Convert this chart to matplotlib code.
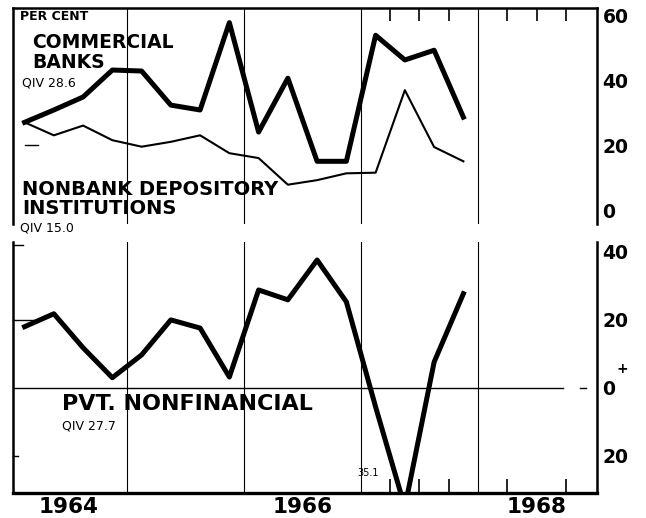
import matplotlib
matplotlib.use("Agg")
import matplotlib.pyplot as plt

# quarterly growth rates, per cent, 1964 Q1 .. 1967 Q4
years = [1964, 1965, 1966, 1967]
commercial_banks = [27, 30.8, 34.8, 43.1, 42.8, 32.3, 30.8, 57.7,
                    24, 40.6, 15, 15, 53.8, 46.2, 49.2, 28.6]
nonbank_depository = [27, 23, 26, 21.5, 19.5, 21, 23, 17.5,
                      16, 7.8, 9.2, 11.3, 11.5, 36.9, 19.4, 15.0]
pvt_nonfinancial = [18, 21.8, 11.8, 3, 9.7, 20, 17.6, 3.2,
                    28.8, 25.9, 37.6, 25.3, -5.6, -35.1, 7.6, 27.7]

top_ticks = [60, 40, 20, 0]
top_ticklabels = ["60", "40", "20", "0"]
bot_ticks = [40, 20, 0, -20]
bot_ticklabels = ["40", "20", "0", "20"]
year_labels = ["1964", "1966", "1968"]

x = [y + (q + 0.5) / 4 for y in years for q in range(4)]

W, H = 646, 518
fig = plt.figure(figsize=(W / 100, H / 100), dpi=100)
fig.patch.set_facecolor("white")


def fx(px):
    return px / W


def fy(py):
    return 1 - py / H


left, right = 13, 597
ax1 = fig.add_axes([fx(left), fy(224), fx(right - left), (224 - 8) / H])
ax2 = fig.add_axes([fx(left), fy(493), fx(right - left), (493 - 242) / H])

XMIN, XMAX = 1964.026, 1969.017
for ax in (ax1, ax2):
    ax.set_xlim(XMIN, XMAX)
    ax.set_facecolor("white")
    for yr in [1965, 1966, 1967, 1968]:
        ax.axvline(yr, color="black", lw=0.8, zorder=1)
    ax.yaxis.tick_right()
    ax.tick_params(axis="y", which="major", right=True, left=False, length=0,
                   pad=4, labelsize=13, labelcolor="black")

quarters = [1967.25, 1967.5, 1967.75, 1968.25, 1968.5, 1968.75]

# top panel
ax1.set_ylim(-4.3, 62.2)
ax1.plot(x, commercial_banks, color="black", lw=3.6, zorder=3)
ax1.plot(x, nonbank_depository, color="black", lw=1.5, zorder=3)
ax1.set_yticks(top_ticks)
ax1.set_yticklabels(top_ticklabels, fontweight="bold", fontsize=13.5)
ax1.spines["bottom"].set_visible(False)
for s in ["left", "top", "right"]:
    ax1.spines[s].set_linewidth(1.8)
ax1.set_xticks([])
ax1.set_xticks(quarters, minor=True)
ax1.tick_params(axis="x", which="minor", top=True, bottom=False, direction="in",
                length=9, width=1.2, labelbottom=False)

# bottom panel
ax2.set_ylim(-30.9, 42.9)
ax2.plot(x, pvt_nonfinancial, color="black", lw=3.6, zorder=3)
ax2.axhline(0, xmin=0, xmax=0.942, color="black", lw=1.0, zorder=2)
ax2.axhline(0, xmin=0.971, xmax=0.981, color="black", lw=1.0, zorder=2)
ax2.set_yticks(bot_ticks)
ax2.set_yticklabels(bot_ticklabels, fontweight="bold", fontsize=13.5)
ax2.spines["top"].set_visible(False)
for s in ["left", "right"]:
    ax2.spines[s].set_linewidth(1.8)
ax2.spines["bottom"].set_linewidth(2.4)
ax2.set_xticks([1964.5, 1966.5, 1968.5])
ax2.set_xticklabels(year_labels, fontweight="bold", fontsize=15.5)
ax2.tick_params(axis="x", which="major", length=0, pad=3)
ax2.set_xticks(quarters, minor=True)
ax2.tick_params(axis="x", which="minor", direction="in", length=10, width=1.2)
# short inward marks on the left edge
for v, ln in [(20, 22), (-20, 5), (42, 10)]:
    ax2.plot([XMIN, XMIN + ln / 117], [v, v], color="black", lw=1.0, clip_on=False)
ax1.plot([1964 + 15 / 117, 1964 + 28 / 117], [20, 20], color="black", lw=1.0)

# labels
fam = "DejaVu Sans"
fig.text(fx(20), fy(17), "PER CENT", fontsize=9, fontweight="bold", family=fam, va="center", ha="left")
fig.text(fx(32), fy(42), "COMMERCIAL", fontsize=13.5, fontweight="bold", family=fam, va="center")
fig.text(fx(32), fy(62), "BANKS", fontsize=13.5, fontweight="bold", family=fam, va="center")
fig.text(fx(22), fy(83), "QIV 28.6", fontsize=9, family=fam, va="center")
fig.text(fx(22), fy(190), "NONBANK DEPOSITORY", fontsize=14, fontweight="bold", family=fam, va="center")
fig.text(fx(22), fy(209), "INSTITUTIONS", fontsize=14, fontweight="bold", family=fam, va="center")
fig.text(fx(20), fy(228), "QIV 15.0", fontsize=9, family=fam, va="center")
fig.text(fx(62), fy(404), "PVT. NONFINANCIAL", fontsize=16, fontweight="bold", family=fam, va="center")
fig.text(fx(62), fy(426), "QIV 27.7", fontsize=9, family=fam, va="center")
fig.text(fx(368), fy(473), "35.1", fontsize=7, family=fam, va="center", ha="center")
fig.text(fx(622), fy(369), "+", fontsize=10, fontweight="bold", family=fam, va="center", ha="center")

fig.savefig("out.png", dpi=100, facecolor="white")
